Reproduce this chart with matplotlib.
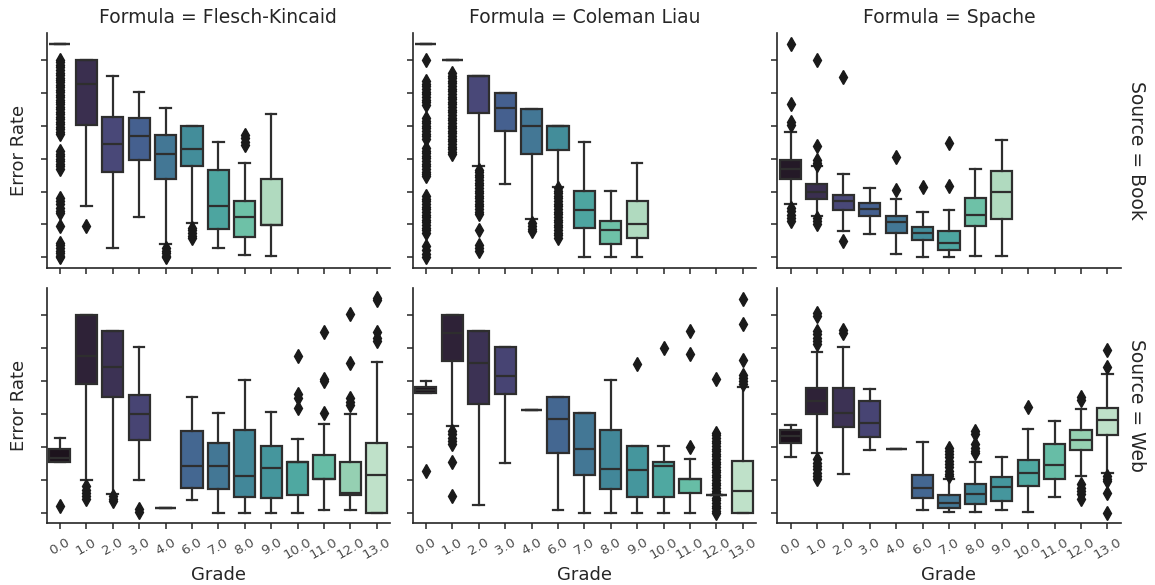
import matplotlib
matplotlib.use("Agg")
import matplotlib.pyplot as plt
import seaborn as sns

# ---------------- data (y in tick units, ticks at 0..6) ----------------
grades = ["0.0", "1.0", "2.0", "3.0", "4.0", "6.0", "7.0", "8.0", "9.0",
          "10.0", "11.0", "12.0", "13.0"]
formulas = ["Flesch-Kincaid", "Coleman Liau", "Spache"]
sources = ["Book", "Web"]

# Book / Flesch-Kincaid (grades 0.0 .. 9.0)
book_fk_q1 = [6.5, 4.04, 2.59, 2.95, 2.37, 2.77, 0.87, 0.62, 0.98]
book_fk_med = [6.5, 5.28, 3.46, 3.69, 3.15, 3.31, 1.55, 1.22, 0.98]
book_fk_q3 = [6.5, 6.0, 4.27, 4.24, 3.73, 4.01, 2.67, 1.72, 2.39]
book_fk_lo = [6.5, 1.55, 0.27, 1.22, 0.39, 1.03, 0.27, 0.08, 0.05]
book_fk_hi = [6.5, 6.0, 5.52, 5.02, 4.53, 4.01, 3.52, 2.88, 4.36]
book_fk_fliers = [
    [6.0, 5.93, 5.85, 5.78, 5.7, 5.62, 5.55, 5.47, 5.4, 5.32, 5.25, 5.17, 5.1,
     5.02, 4.95, 4.87, 4.8, 4.72, 4.65, 4.57, 4.5, 4.42, 4.35, 4.27, 4.2, 4.12,
     4.05, 3.97, 3.9, 3.82, 3.75, 3.23, 3.15, 3.07, 3.0, 2.92, 2.85, 2.77, 2.7,
     1.8, 1.72, 1.62, 1.5, 1.42, 1.35, 0.94, 0.44, 0.36, 0.28, 0.2, 0.12, 0.05, 0.0],
    [0.94], [], [], [0.28, 0.2, 0.12, 0.04, 0.0], [0.9, 0.82, 0.74, 0.66, 0.58],
    [], [3.72, 3.62, 3.52, 3.42], []]

# Book / Coleman Liau
book_cl_q1 = [6.5, 6.0, 4.38, 3.84, 3.15, 3.26, 0.88, 0.42, 0.59]
book_cl_med = [6.5, 6.0, 5.51, 4.53, 4.01, 4.01, 1.43, 0.82, 1.02]
book_cl_q3 = [6.5, 6.0, 5.51, 5.0, 4.52, 4.01, 2.01, 1.1, 1.72]
book_cl_lo = [6.5, 6.0, 2.77, 2.23, 1.18, 2.13, 0.0, 0.0, 0.0]
book_cl_hi = [6.5, 6.0, 5.51, 5.0, 4.52, 4.01, 3.51, 2.01, 2.88]
book_cl_fliers = [
    [6.0, 5.36, 5.28, 5.2, 5.12, 5.04, 4.96, 4.88, 4.8, 4.72, 4.64, 4.24, 4.16,
     4.08, 4.0, 3.92, 3.84, 3.76, 3.68, 3.6, 3.33, 3.25, 3.17, 3.09, 3.01, 2.93,
     2.85, 2.77, 2.69, 2.61, 2.53, 2.47, 1.86, 1.78, 1.7, 1.62, 1.54, 1.46, 1.38,
     1.3, 1.22, 1.14, 1.06, 0.98, 0.9, 0.82, 0.74, 0.34, 0.22, 0.1, 0.0],
    [5.61, 5.53, 5.45, 5.37, 5.29, 5.21, 5.13, 5.05, 4.97, 4.89, 4.81, 4.73,
     4.65, 4.57, 4.49, 4.41, 4.33, 4.25, 4.17, 4.09, 4.01, 3.93, 3.85, 3.77,
     3.69, 3.61, 3.53, 3.45, 3.37, 3.29, 3.21, 3.13],
    [2.67, 2.59, 2.51, 2.43, 2.35, 2.27, 2.19, 2.11, 2.03, 1.95, 1.87, 1.79,
     1.71, 1.63, 1.55, 1.47, 1.39, 1.31, 0.84, 0.36, 0.28, 0.2],
    [], [1.03, 0.95, 0.87, 0.8],
    [2.11, 2.03, 1.95, 1.87, 1.79, 1.71, 1.63, 1.55, 1.47, 1.39, 1.31, 1.23,
     1.15, 1.07, 0.99, 0.91, 0.83, 0.75, 0.67, 0.59],
    [], [], []]

# Book / Spache
book_sp_q1 = [2.37, 1.78, 1.45, 1.25, 0.74, 0.54, 0.21, 0.94, 1.18]
book_sp_med = [2.70, 1.99, 1.70, 1.48, 1.08, 0.74, 0.44, 1.28, 2.0]
book_sp_q3 = [2.97, 2.23, 1.89, 1.65, 1.27, 0.93, 0.81, 1.79, 2.64]
book_sp_lo = [1.63, 1.27, 0.81, 0.72, 0.10, 0.0, 0.0, 0.05, 0.05]
book_sp_hi = [3.81, 2.77, 2.53, 2.10, 1.77, 1.39, 1.43, 2.69, 3.58]
book_sp_fliers = [
    [6.5, 4.68, 4.11, 4.03, 1.5, 1.4, 1.3, 1.2, 1.1],
    [6.0, 3.38, 2.97, 2.88, 2.82, 1.2, 1.1, 1.02],
    [5.49, 0.49], [], [3.05, 2.06], [2.13], [3.48, 2.16], [], []]

# Web / Flesch-Kincaid (grades 0.0 .. 13.0)
web_fk_q1 = [1.54, 3.92, 3.53, 2.21, 0.14, 0.76, 0.73, 0.49, 0.45, 0.53, 1.01, 0.53, 0.0]
web_fk_med = [1.67, 4.78, 4.44, 2.99, 0.14, 1.42, 1.42, 1.11, 1.37, 1.54, 1.01, 0.61, 1.14]
web_fk_q3 = [1.95, 6.0, 5.54, 3.58, 0.14, 2.48, 2.11, 2.51, 2.03, 1.54, 1.74, 1.54, 2.11]
web_fk_lo = [1.54, 0.98, 0.56, 0.98, 0.14, 0.37, 0.0, 0.0, 0.0, 0.0, 0.08, 0.08, 0.0]
web_fk_hi = [2.28, 6.0, 5.54, 5.04, 0.14, 3.53, 3.03, 4.05, 3.07, 2.23, 2.71, 2.99, 4.58]
web_fk_fliers = [
    [0.2], [0.81, 0.7, 0.6, 0.5, 0.41], [0.5, 0.42, 0.35], [0.1, 0.02], [],
    [], [], [], [], [4.76, 3.6, 3.5, 3.19], [5.5, 4.07, 4.0, 3.04],
    [6.03, 4.56, 3.5, 3.38, 3.26], [6.53, 6.46, 5.5, 5.3, 5.22]]

# Web / Coleman Liau
web_cl_q1 = [3.65, 4.61, 3.29, 3.6, 3.11, 1.82, 1.14, 0.73, 0.48, 0.48, 0.61, 0.53, 0.0]
web_cl_med = [3.73, 5.47, 4.54, 4.15, 3.11, 2.86, 1.95, 1.32, 1.29, 1.42, 1.01, 0.53, 0.66]
web_cl_q3 = [3.82, 6.0, 5.54, 5.04, 3.11, 3.53, 3.03, 2.51, 2.03, 1.54, 1.01, 0.53, 1.57]
web_cl_lo = [3.65, 2.63, 0.22, 1.52, 3.11, 0.08, 0.0, 0.0, 0.0, 0.0, 0.0, 0.53, 0.0]
web_cl_hi = [3.99, 6.0, 5.54, 5.04, 3.11, 3.53, 3.03, 4.05, 2.03, 2.03, 1.62, 0.53, 3.83]
web_cl_fliers = [
    [1.27], [2.48, 2.38, 2.28, 2.18, 2.08, 1.54, 0.51], [], [], [], [], [], [],
    [4.51], [5.02], [5.52, 4.84, 2.0],
    [4.08, 2.43, 2.35, 2.27, 2.19, 2.11, 2.03, 1.95, 1.87, 1.79, 1.71, 1.63,
     1.55, 1.47, 1.39, 1.31, 1.23, 1.15, 1.07, 0.99, 0.91, 0.83, 0.75, 0.67,
     0.59, 0.45, 0.37, 0.29, 0.21, 0.13, 0.05, 0.0],
    [6.5, 5.74, 4.63, 4.2, 4.1, 4.0, 3.9]]

# Web / Spache
web_sp_q1 = [2.11, 2.99, 2.61, 2.31, 1.95, 0.44, 0.15, 0.27, 0.35, 0.81, 1.01, 1.89, 2.35]
web_sp_med = [2.33, 3.41, 3.02, 2.74, 1.95, 0.74, 0.28, 0.56, 0.79, 1.22, 1.45, 2.21, 2.82]
web_sp_q3 = [2.5, 3.78, 3.78, 3.39, 1.95, 1.14, 0.53, 0.86, 1.09, 1.6, 2.08, 2.51, 3.19]
web_sp_lo = [1.69, 1.82, 1.17, 1.9, 1.95, 0.08, 0.03, 0.03, 0.08, 0.03, 0.49, 1.11, 1.22]
web_sp_hi = [2.66, 4.88, 5.04, 3.75, 1.95, 2.15, 1.03, 1.54, 1.69, 2.53, 2.79, 3.16, 4.22]
web_sp_fliers = [
    [], [6.08, 5.98, 5.52, 5.42, 5.32, 5.22, 5.12, 1.62, 1.52, 1.42, 1.32, 1.22,
         1.12, 1.01],
    [5.57, 5.47], [], [], [],
    [1.98, 1.88, 1.78, 1.68, 1.58, 1.48, 1.38, 1.28, 1.18, 1.11],
    [2.48, 2.38, 2.08, 1.98, 1.88, 1.82], [], [3.21], [],
    [3.53, 3.42, 0.86, 0.76, 0.66, 0.56, 0.41],
    [4.96, 4.44, 1.11, 1.03, 0.96, 0.61, 0.0]]

panels = {
    ("Book", "Flesch-Kincaid"): (book_fk_q1, book_fk_med, book_fk_q3, book_fk_lo, book_fk_hi, book_fk_fliers),
    ("Book", "Coleman Liau"): (book_cl_q1, book_cl_med, book_cl_q3, book_cl_lo, book_cl_hi, book_cl_fliers),
    ("Book", "Spache"): (book_sp_q1, book_sp_med, book_sp_q3, book_sp_lo, book_sp_hi, book_sp_fliers),
    ("Web", "Flesch-Kincaid"): (web_fk_q1, web_fk_med, web_fk_q3, web_fk_lo, web_fk_hi, web_fk_fliers),
    ("Web", "Coleman Liau"): (web_cl_q1, web_cl_med, web_cl_q3, web_cl_lo, web_cl_hi, web_cl_fliers),
    ("Web", "Spache"): (web_sp_q1, web_sp_med, web_sp_q3, web_sp_lo, web_sp_hi, web_sp_fliers),
}

# ---------------- drawing ----------------
plt.rcParams["font.family"] = ["DejaVu Sans"]
W, H = 1155, 585
fig = plt.figure(figsize=(W / 100, H / 100), dpi=100)

col_left = [46.7, 412.7, 777.3]
row_top = [33.0, 288.3]
ax_w, ax_h = 343.3, 235.0
line_col = "#2e2e2e"
flier_col = "#1a1a1a"
text_col = "#262626"

for r, src in enumerate(sources):
    for c, form in enumerate(formulas):
        ax = fig.add_axes([col_left[c] / W, 1 - (row_top[r] + ax_h) / H,
                           ax_w / W, ax_h / H])
        q1, med, q3, lo, hi, fl = panels[(src, form)]
        n = len(med)
        pal = [sns.desaturate(col, 0.75) for col in sns.color_palette("mako", n)]
        stats = []
        for i in range(n):
            stats.append(dict(med=med[i], q1=q1[i], q3=q3[i], whislo=lo[i],
                              whishi=hi[i], fliers=fl[i]))
        bp = ax.bxp(stats, positions=list(range(n)), widths=0.8,
                    patch_artist=True, showfliers=True,
                    boxprops=dict(edgecolor=line_col, linewidth=1.6),
                    medianprops=dict(color=line_col, linewidth=1.6),
                    whiskerprops=dict(color=line_col, linewidth=1.6),
                    capprops=dict(color=line_col, linewidth=1.6),
                    flierprops=dict(marker="d", markersize=6.8,
                                    markerfacecolor=flier_col,
                                    markeredgecolor=flier_col, linestyle="none"))
        for patch, col in zip(bp["boxes"], pal):
            patch.set_facecolor(col)
        ax.set_xlim(-0.5, len(grades) - 0.5)
        ax.set_ylim(-0.325, 6.825)
        ax.set_yticks(range(7))
        ax.set_yticklabels([])
        ax.set_xticks(range(len(grades)))
        for s in ["top", "right"]:
            ax.spines[s].set_visible(False)
        for s in ["left", "bottom"]:
            ax.spines[s].set_linewidth(1.2)
            ax.spines[s].set_color(text_col)
        ax.tick_params(axis="both", length=4.5, width=1.1, color=text_col)
        if r == 1:
            ax.tick_params(axis="x", pad=4.5)
            ax.set_xticklabels(grades, rotation=30, ha="center",
                               fontsize=9.6, color="#4d4d4d")
            ax.set_xlabel("Grade", fontsize=13, color=text_col)
            ax.xaxis.set_label_coords(0.5, -0.18)
        else:
            ax.set_xticklabels([])
            ax.set_title(f"Formula = {form}", fontsize=13.5, color=text_col, pad=7)
        if c == 0:
            ax.set_ylabel("Error Rate", fontsize=13, color=text_col)
            ax.yaxis.set_label_coords(-0.055, 0.5)
        if c == 2:
            ax.annotate(f"Source = {src}", xy=(1.02, 0.5), xycoords="axes fraction",
                        rotation=270, ha="left", va="center", fontsize=13.5,
                        color=text_col)

fig.savefig("out.png", dpi=100)
